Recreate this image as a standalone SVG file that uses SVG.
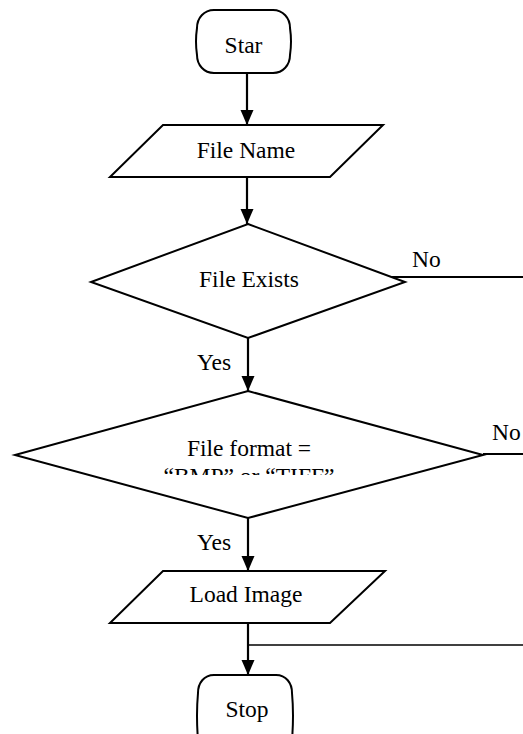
<svg xmlns="http://www.w3.org/2000/svg" width="523" height="734" viewBox="0 0 523 734">
  <style>
    .shape { fill: #ffffff; stroke: #000000; stroke-width: 2; stroke-linejoin: miter; }
    .flow { fill: none; stroke: #000000; stroke-width: 2.2; }
    .thin { fill: none; stroke: #000000; stroke-width: 1.4; }
    text { font-family: 'Liberation Serif', 'Times New Roman', Times, serif; font-size: 23.5px; fill: #000000; }
    .mid { text-anchor: middle; }
  </style>
  <defs>
    <marker id="arrow" markerUnits="userSpaceOnUse" markerWidth="16" markerHeight="14" refX="15" refY="6.5" orient="auto">
      <path d="M0,0 L15,6.5 L0,13 Z" fill="#000000"/>
    </marker>
    <clipPath id="formatClip">
      <rect x="0" y="430" width="523" height="45"/>
    </clipPath>
  </defs>

  <rect width="523" height="734" fill="#ffffff"/>

  <g id="connectors" font-family="Liberation Serif, serif">
    <line class="flow" x1="247" y1="73" x2="247" y2="125" marker-end="url(#arrow)"/>
    <line class="flow" x1="247" y1="177" x2="247" y2="224" marker-end="url(#arrow)"/>
    <line class="flow" x1="248" y1="338" x2="248" y2="391" marker-end="url(#arrow)"/>
    <line class="flow" x1="248" y1="518" x2="248" y2="571" marker-end="url(#arrow)"/>
    <line class="flow" x1="248" y1="623" x2="248" y2="675" marker-end="url(#arrow)"/>
    <line class="flow" x1="392" y1="277" x2="523" y2="277"/>
    <line class="flow" x1="483" y1="454" x2="523" y2="454"/>
    <line class="thin" x1="248" y1="645" x2="523" y2="645"/>
    <text x="412" y="267">No</text>
    <text x="492" y="440">No</text>
    <text x="197" y="370">Yes</text>
    <text x="197" y="550">Yes</text>
  </g>

  <g id="start">
    <path class="shape" d="M214,10 H273 C283,10 290,18 290,28 Q292,41.5 290,55 C290,65 283,73 273,73 H214 C204,73 197,65 197,55 Q195,41.5 197,28 C197,18 204,10 214,10 Z"/>
    <text class="mid" x="243.5" y="53">Star</text>
  </g>

  <g id="file-name">
    <polygon class="shape" points="163,125 383,125 330,177 110,177"/>
    <text class="mid" x="246" y="158">File Name</text>
  </g>

  <g id="file-exists">
    <polygon class="shape" points="248,224 405,282 248,338 91,282"/>
    <text class="mid" x="249" y="287">File Exists</text>
  </g>

  <g id="file-format">
    <polygon class="shape" points="248,391 483,455 248,518 15,455"/>
    <text class="mid" x="249" y="456">File format =</text>
    <text class="mid" x="249" y="484" clip-path="url(#formatClip)">“BMP” or “TIFF”</text>
  </g>

  <g id="load-image">
    <polygon class="shape" points="163,571 385,571 330,623 110,623"/>
    <text class="mid" x="246" y="602">Load Image</text>
  </g>

  <g id="stop">
    <path class="shape" d="M214,675 H276 C286,675 292,683 292,693 Q294,715 292,740 H198 Q196,715 198,693 C198,683 204,675 214,675 Z"/>
    <text class="mid" x="247" y="717">Stop</text>
  </g>
</svg>
